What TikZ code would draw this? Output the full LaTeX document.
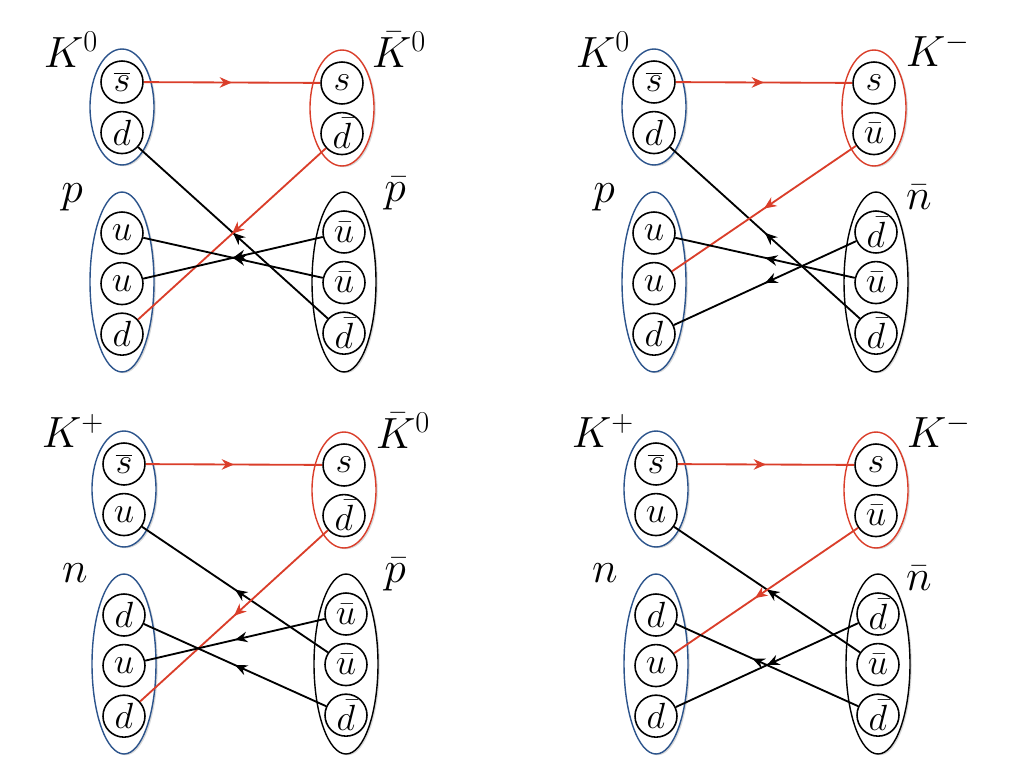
\documentclass[tikz,border=0pt]{standalone}
\usepackage{tikz}
\usetikzlibrary{positioning,shapes.geometric,arrows.meta,decorations.markings,shadows}

\definecolor{hadronblue}{RGB}{44,84,140}
\definecolor{quarkred}{RGB}{218,62,42}

\begin{document}
\begin{tikzpicture}[x=0.02cm,y=-0.02cm,
                    quark/.style={draw,circle,line width=.9pt,minimum size=.84cm,inner sep=0pt,font={\fontsize{22}{24}\selectfont}},
                    hadron/.style={draw,ellipse,line width=.8pt,minimum width=1.28cm,fill=white,
                                   drop shadow={shadow xshift=1pt,shadow yshift=-.7pt,opacity=.3}},
                    meson/.style={hadron,minimum height=2.32cm},
                    baryon/.style={hadron,minimum height=3.6cm},
                    hadronlabel/.style={inner sep=0pt,font={\fontsize{25}{28}\selectfont}},
                    flow/.style={line width=1.05pt,postaction={decorate},
                                 decoration={markings,mark=at position #1 with {\arrow{Stealth[length=7pt,width=6pt]}}}},
                    flow/.default=.5]
  \useasboundingbox (0,0) rectangle (1024,768);

  % K0 p -> K0bar pbar
  \begin{scope}[name prefix=kp-]
    \node[meson,draw=hadronblue] (A) at (122,107) {};
    \node[meson,draw=quarkred] (B) at (342,108) {};
    \node[baryon,draw=hadronblue] (C) at (122,282) {};
    \node[baryon] (D) at (344,282) {};
    \node[hadronlabel] (la) at (71,50) {$K^0$};
    \node[hadronlabel] (lb) at (399,50) {$\bar K^0$};
    \node[hadronlabel] (lc) at (72,197) {$p$};
    \node[hadronlabel] (ld) at (395,194) {$\bar p$};
    \node[quark] (a1) at (122,82) {$\overline{s}$};
    \node[quark,below=.14cm of a1] (a2) {$d$};
    \node[quark] (b1) at (342,83) {$s$};
    \node[quark,below=.14cm of b1] (b2) {$\bar d$};
    \node[quark] (c1) at (122,233) {$u$};
    \node[quark,below=.14cm of c1] (c2) {$u$};
    \node[quark,below=.14cm of c2] (c3) {$d$};
    \node[quark] (d1) at (344,232) {$\bar u$};
    \node[quark,below=.14cm of d1] (d2) {$\bar u$};
    \node[quark,below=.14cm of d2] (d3) {$\bar d$};
    \draw[flow,quarkred] (a1) -- (b1);
    \draw[flow] (d3) -- (a2);
    \draw[flow,quarkred] (b2) -- (c3);
    \draw[flow] (d2) -- (c1);
    \draw[flow] (d1) -- (c2);
  \end{scope}

  % K0 p -> K- nbar
  \begin{scope}[shift={(532,0)},name prefix=kpn-]
    \node[meson,draw=hadronblue] (A) at (122,107) {};
    \node[meson,draw=quarkred] (B) at (342,108) {};
    \node[baryon,draw=hadronblue] (C) at (122,282) {};
    \node[baryon] (D) at (344,282) {};
    \node[hadronlabel] (la) at (71,50) {$K^0$};
    \node[hadronlabel] (lb) at (406,50) {$K^-$};
    \node[hadronlabel] (lc) at (72,197) {$p$};
    \node[hadronlabel] (ld) at (387,197) {$\bar n$};
    \node[quark] (a1) at (122,82) {$\overline{s}$};
    \node[quark,below=.14cm of a1] (a2) {$d$};
    \node[quark] (b1) at (342,83) {$s$};
    \node[quark,below=.14cm of b1] (b2) {$\bar u$};
    \node[quark] (c1) at (122,233) {$u$};
    \node[quark,below=.14cm of c1] (c2) {$u$};
    \node[quark,below=.14cm of c2] (c3) {$d$};
    \node[quark] (d1) at (344,232) {$\bar d$};
    \node[quark,below=.14cm of d1] (d2) {$\bar u$};
    \node[quark,below=.14cm of d2] (d3) {$\bar d$};
    \draw[flow,quarkred] (a1) -- (b1);
    \draw[flow] (d3) -- (a2);
    \draw[flow,quarkred] (b2) -- (c2);
    \draw[flow] (d2) -- (c1);
    \draw[flow] (d1) -- (c3);
  \end{scope}

  % K+ n -> K0bar pbar
  \begin{scope}[shift={(2,382)},name prefix=kn-]
    \node[meson,draw=hadronblue] (A) at (122,107) {};
    \node[meson,draw=quarkred] (B) at (342,108) {};
    \node[baryon,draw=hadronblue] (C) at (122,282) {};
    \node[baryon] (D) at (344,282) {};
    \node[hadronlabel] (la) at (71,49) {$K^+$};
    \node[hadronlabel] (lb) at (401,49) {$\bar K^0$};
    \node[hadronlabel] (lc) at (73,191) {$n$};
    \node[hadronlabel] (ld) at (393,193) {$\bar p$};
    \node[quark] (a1) at (122,82) {$\overline{s}$};
    \node[quark,below=.14cm of a1] (a2) {$u$};
    \node[quark] (b1) at (342,83) {$s$};
    \node[quark,below=.14cm of b1] (b2) {$\bar d$};
    \node[quark] (c1) at (122,233) {$d$};
    \node[quark,below=.14cm of c1] (c2) {$u$};
    \node[quark,below=.14cm of c2] (c3) {$d$};
    \node[quark] (d1) at (344,232) {$\bar u$};
    \node[quark,below=.14cm of d1] (d2) {$\bar u$};
    \node[quark,below=.14cm of d2] (d3) {$\bar d$};
    \draw[flow,quarkred] (a1) -- (b1);
    \draw[flow] (d2) -- (a2);
    \draw[flow,quarkred] (b2) -- (c3);
    \draw[flow] (d1) -- (c2);
    \draw[flow] (d3) -- (c1);
  \end{scope}

  % K+ n -> K- nbar
  \begin{scope}[shift={(534,382)},name prefix=knn-]
    \node[meson,draw=hadronblue] (A) at (122,107) {};
    \node[meson,draw=quarkred] (B) at (342,108) {};
    \node[baryon,draw=hadronblue] (C) at (122,282) {};
    \node[baryon] (D) at (344,282) {};
    \node[hadronlabel] (la) at (69,49) {$K^+$};
    \node[hadronlabel] (lb) at (405,49) {$K^-$};
    \node[hadronlabel] (lc) at (71,191) {$n$};
    \node[hadronlabel] (ld) at (385,196) {$\bar n$};
    \node[quark] (a1) at (122,82) {$\overline{s}$};
    \node[quark,below=.14cm of a1] (a2) {$u$};
    \node[quark] (b1) at (342,83) {$s$};
    \node[quark,below=.14cm of b1] (b2) {$\bar u$};
    \node[quark] (c1) at (122,233) {$d$};
    \node[quark,below=.14cm of c1] (c2) {$u$};
    \node[quark,below=.14cm of c2] (c3) {$d$};
    \node[quark] (d1) at (344,232) {$\bar d$};
    \node[quark,below=.14cm of d1] (d2) {$\bar u$};
    \node[quark,below=.14cm of d2] (d3) {$\bar d$};
    \draw[flow,quarkred] (a1) -- (b1);
    \draw[flow] (d2) -- (a2);
    \draw[flow=.56,quarkred] (b2) -- (c2);
    \draw[flow=.58] (d3) -- (c1);
    \draw[flow] (d1) -- (c3);
  \end{scope}
\end{tikzpicture}
\end{document}
